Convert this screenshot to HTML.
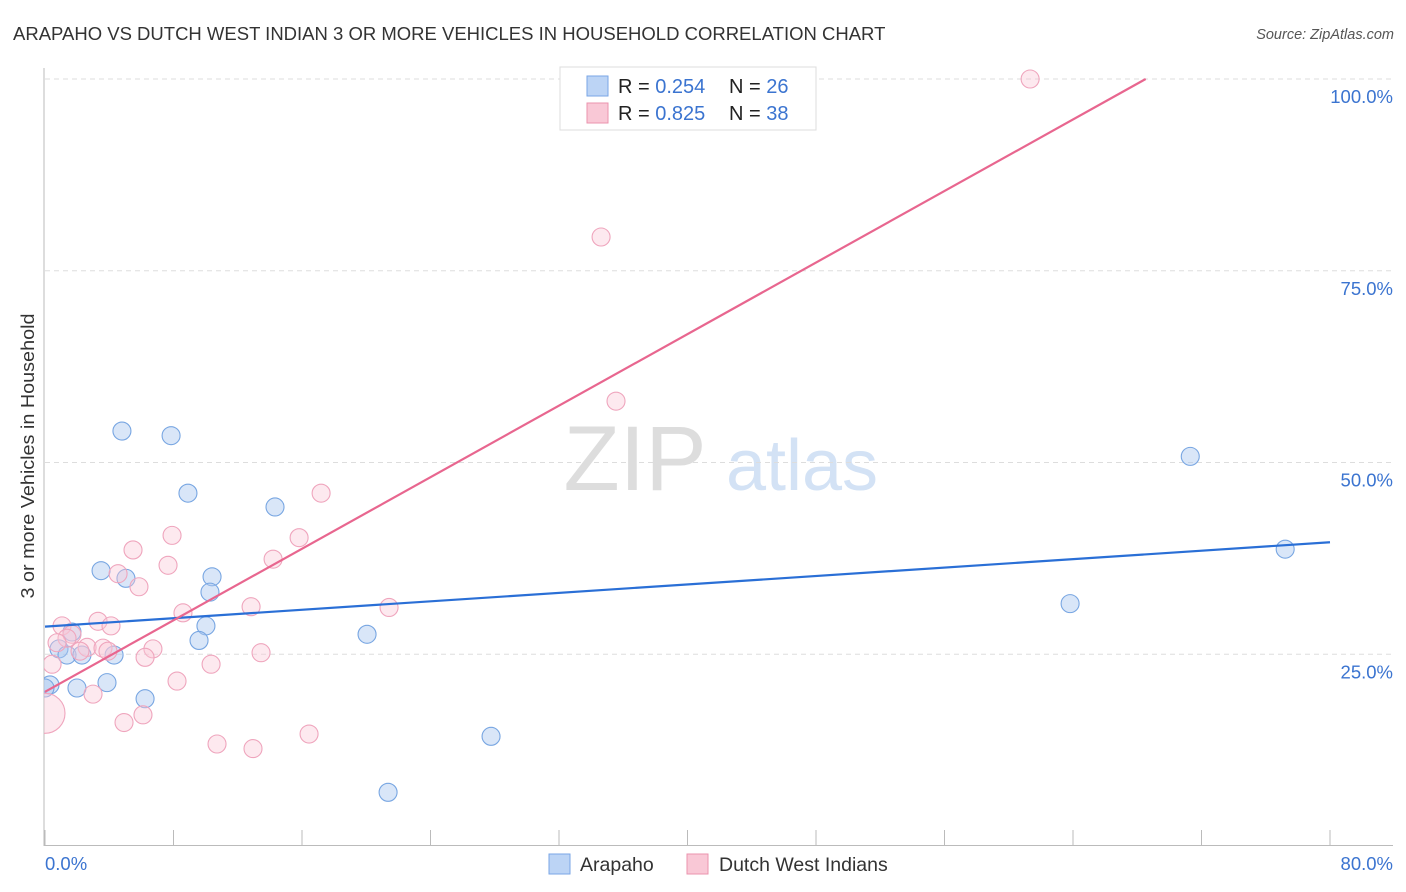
<!DOCTYPE html>
<html><head><meta charset="utf-8">
<style>
body{margin:0;background:#fff;font-family:"Liberation Sans",sans-serif;}
#wrap{position:relative;width:1406px;height:892px;overflow:hidden;}
svg text{font-family:"Liberation Sans",sans-serif;}
</style></head>
<body>
<div id="wrap">
<svg id="chart" width="1406" height="892" xmlns="http://www.w3.org/2000/svg">
<defs><clipPath id="plotclip"><rect x="44" y="60" width="1360" height="786"/></clipPath></defs>
<text x="13" y="40" font-size="18.5" fill="#333">ARAPAHO VS DUTCH WEST INDIAN 3 OR MORE VEHICLES IN HOUSEHOLD CORRELATION CHART</text>
<text x="1394" y="39" font-size="14.5" fill="#555" font-style="italic" text-anchor="end">Source: ZipAtlas.com</text>
<text x="0" y="0" transform="translate(34,456) rotate(-90)" font-size="18" fill="#333" text-anchor="middle" textLength="285" lengthAdjust="spacingAndGlyphs">3 or more Vehicles in Household</text>
<g>
<text x="635" y="490" font-size="92" fill="#ddd" font-family="Liberation Serif,serif" text-anchor="middle">ZIP</text>
<text x="802" y="490" font-size="72" fill="#d3e2f5" text-anchor="middle">atlas</text>
</g>
<g id="grid"></g>
<g id="axes"></g>
<g id="marks" clip-path="url(#plotclip)"></g>
<g>
<rect x="560" y="67" width="256" height="63" fill="#fff" stroke="#ddd"/>
<rect x="587" y="76" width="21" height="20" fill="#bcd4f5" stroke="#7aa6e6"/>
<rect x="587" y="103" width="21" height="20" fill="#f9c8d6" stroke="#eb93ae"/>
<text x="618" y="93" font-size="20" fill="#222">R = <tspan fill="#3b74d0">0.254</tspan></text>
<text x="729" y="93" font-size="20" fill="#222">N = <tspan fill="#3b74d0">26</tspan></text>
<text x="618" y="120" font-size="20" fill="#222">R = <tspan fill="#3b74d0">0.825</tspan></text>
<text x="729" y="120" font-size="20" fill="#222">N = <tspan fill="#3b74d0">38</tspan></text>
</g>
<g>
<rect x="549" y="854" width="21" height="20" fill="#bcd4f5" stroke="#7aa6e6"/>
<text x="580" y="871" font-size="19.5" fill="#333">Arapaho</text>
<rect x="687" y="854" width="21" height="20" fill="#f9c8d6" stroke="#eb93ae"/>
<text x="719" y="871" font-size="19.5" fill="#333">Dutch West Indians</text>
</g>
</svg>
</div>
<script>
const yTicks=[25,50,75,100];
const yTickLabels=["25.0%","50.0%","75.0%","100.0%"];
const xTickLabels=["0.0%","80.0%"];
const arapahoX=[4.79,7.85,8.90,14.32,3.49,5.04,10.40,10.27,10.02,9.59,20.05,1.68,0.87,1.37,2.30,4.30,3.86,1.99,0.31,0,6.23,27.77,21.36,63.82,71.30,77.21];
const arapahoY=[54.1,53.5,46.0,44.2,35.9,34.9,35.1,33.1,28.7,26.8,27.6,27.9,25.7,24.9,24.9,24.9,21.3,20.6,21.0,20.6,19.2,14.3,7.0,31.6,50.8,38.7];
const dutchX=[61.33,34.62,35.55,17.19,15.82,7.91,5.48,14.20,7.66,4.55,5.85,12.83,21.42,8.59,3.30,4.11,1.06,1.68,1.37,0.75,2.62,2.18,3.61,3.92,6.72,6.23,13.45,10.34,0.44,8.22,2.99,6.10,4.92,10.71,12.95,16.44,0];
const dutchY=[100,79.4,58.0,46.0,40.2,40.5,38.6,37.4,36.6,35.5,33.8,31.2,31.1,30.4,29.3,28.7,28.7,27.6,27.1,26.5,25.9,25.4,25.8,25.4,25.7,24.6,25.2,23.7,23.7,21.5,19.8,17.1,16.1,13.3,12.7,14.6,17.3];
const dutchR=[9,9,9,9,9,9,9,9,9,9,9,9,9,9,9,9,9,9,9,9,9,9,9,9,9,9,9,9,9,9,9,9,9,9,9,9,20];
const arapahoTrend=[28.6,0.1375];
const dutchTrend=[20.1,1.166];

const X0=45,X1=1330,Y100=79,Y0=846;
const xs=v=>X0+(X1-X0)*v/80;
const ys=v=>Y0-(Y0-Y100)*v/100;
const NS="http://www.w3.org/2000/svg";
function mk(tag,attrs,parent){const e=document.createElementNS(NS,tag);for(const k in attrs)e.setAttribute(k,attrs[k]);parent.appendChild(e);return e;}
const grid=document.getElementById('grid'),axes=document.getElementById('axes'),marks=document.getElementById('marks');
yTicks.forEach((t,i)=>{
  const l=mk('line',{x1:45,x2:1393,y1:ys(t),y2:ys(t),stroke:'#ddd','stroke-dasharray':'5,4'},grid);
  
  
  const tx=mk('text',{x:1393,y:ys(t)+24,'font-size':18.5,fill:'#3b74d0','text-anchor':'end'},grid);
  tx.textContent=yTickLabels[i];
  
  
});
let a=mk('line',{x1:44,x2:44,y1:68,y2:846,stroke:'#bbb'},axes);


a=mk('line',{x1:44,x2:1393,y1:845.5,y2:845.5,stroke:'#bbb'},axes);


for(let v=0;v<=80;v+=8){
  const t=mk('line',{x1:xs(v),x2:xs(v),y1:830,y2:846,stroke:'#bbb'},axes);
  
  
}
[[0,'start',45],[80,'end',1393]].forEach((p,i)=>{
  const t=mk('text',{x:p[2],y:870,'font-size':18.5,fill:'#3b74d0','text-anchor':p[1]},axes);
  t.textContent=xTickLabels[i];
  
  
});
arapahoX.forEach((x,i)=>{
  const c=mk('circle',{cx:xs(x),cy:ys(arapahoY[i]),r:9,fill:'rgba(170,200,240,0.45)',stroke:'#78a6e2','stroke-width':1.1},marks);
  
  
});
dutchX.forEach((x,i)=>{
  const c=mk('circle',{cx:xs(x),cy:ys(dutchY[i]),r:dutchR[i],fill:'rgba(250,200,215,0.4)',stroke:'#efa5bd','stroke-width':1.1},marks);
  
  
});
let l=mk('line',{x1:xs(0),y1:ys(arapahoTrend[0]),x2:xs(80),y2:ys(arapahoTrend[0]+80*arapahoTrend[1]),stroke:'#2a6fd6','stroke-width':2.2},marks);


const xEnd=Math.min(80,(100-dutchTrend[0])/dutchTrend[1]);
l=mk('line',{x1:xs(0),y1:ys(dutchTrend[0]),x2:xs(xEnd),y2:ys(dutchTrend[0]+xEnd*dutchTrend[1]),stroke:'#e8668f','stroke-width':2.2},marks);


</script>
</body></html>
